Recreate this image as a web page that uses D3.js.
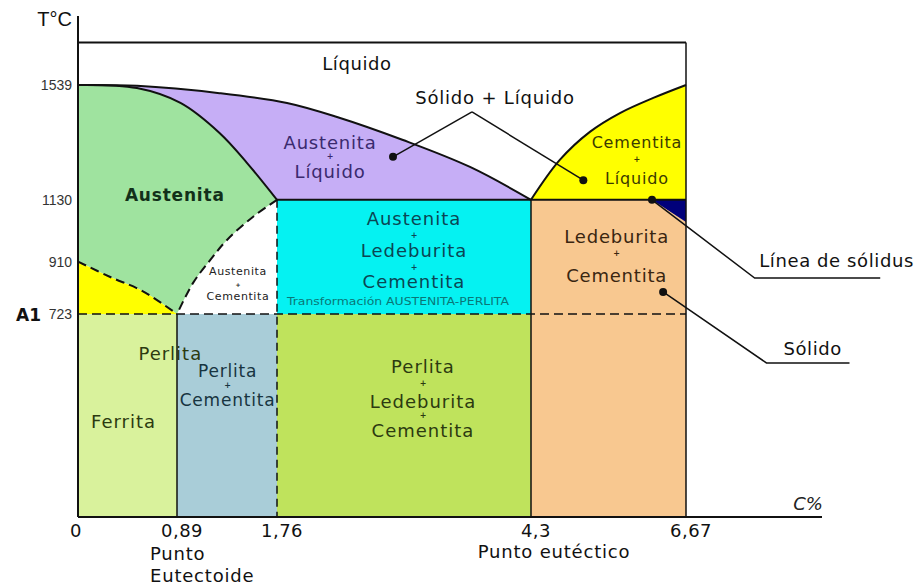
<!DOCTYPE html>
<html>
<head>
<meta charset="utf-8">
<script src="https://cdn.jsdelivr.net/npm/d3@7"></script>
<style>
  body { margin: 0; background: #fff; }
  svg { display: block; }
  text { font-family: "DejaVu Sans", sans-serif; }
  .narrow { font-family: "Liberation Sans Narrow", "Liberation Sans", sans-serif; font-stretch: condensed; }
</style>
</head>
<body>
<svg class="chart"></svg>
<script>
// carbon % ticks and their labels (the drawing is not to scale, so the x scale is piecewise)
const carbonTicks = [0, 0.89, 1.76, 4.3, 6.67];
const carbonLabels = ["0", "0,89", "1,76", "4,3", "6,67"];
const tempTicks = [1539, 1130, 910, 723];

// boundary curves, [C%, T°C]
const liquidus = [[0, 1539], [0.53, 1536], [1.26, 1510], [1.86, 1475], [2.36, 1425], [3.02, 1343], [3.69, 1247], [4.3, 1130]];
const solidus = [[0, 1539], [0.53, 1528], [0.92, 1475], [1.26, 1368], [1.5, 1261], [1.76, 1130]];
const acm = [[1.76, 1130], [1.55, 1069], [1.325, 987], [1.18, 916], [1.03, 834], [0.89, 723]];
const a3 = [[0, 910], [0.29, 855], [0.58, 805], [0.89, 723]];
const cementiteLiquidus = [[4.3, 1130], [4.74, 1272], [5.2, 1372], [5.66, 1439], [6.17, 1493], [6.67, 1539]];
const solidusTriangle = [[6.15, 1130], [6.67, 1130], [6.67, 1051]];
const tMax = 1690;

// region labels: [C%, T of first baseline], lines
const regionLabels = [
  { c: 2.56, t: 1592, lines: ["Líquido"], cls: "plain" },
  { c: 2.29, t: 1311, lines: ["Austenita", "+", "Líquido"], cls: "purple" },
  { c: 0.87, t: 1126, lines: ["Austenita"], cls: "bold" },
  { c: 1.42, t: 862, lines: ["Austenita", "+", "Cementita"], cls: "small" },
  { c: 3.13, t: 1040, lines: ["Austenita", "+", "Ledeburita", "+", "Cementita"], cls: "cyan" },
  { c: 5.92, t: 1315, lines: ["Cementita", "+", "Líquido"], cls: "yellow" },
  { c: 5.61, t: 976, lines: ["Ledeburita", "+", "Cementita"], cls: "orange" },
  { c: 0.83, t: 559, lines: ["Perlita"], cls: "green" },
  { c: 1.33, t: 499, lines: ["Perlita", "+", "Cementita"], cls: "blue" },
  { c: 0.41, t: 317, lines: ["Ferrita"], cls: "green" },
  { c: 3.22, t: 513, lines: ["Perlita", "+", "Ledeburita", "+", "Cementita"], cls: "green" }
];

// leader annotations: dots in the diagram, label outside
const mixLeaderFrom = [3.71, 1443];
const mixDots = [[2.92, 1283], [5.1, 1200]];
const sideNotes = [
  { text: "Línea de sólidus", dot: [6.15, 1130], elbow: [7.72, 851], end: [9.64, 851], textAt: [7.79, 891] },
  { text: "Sólido", dot: [6.32, 802], elbow: [7.9, 549], end: [9.17, 549], textAt: [8.16, 577] }
];

const width = 920, height = 586;

const x = d3.scaleLinear().domain(carbonTicks).range([78, 177, 277, 531, 686]);
const xOut = d3.scaleLinear().domain([4.3, 6.67]).range([531, 686]); // extrapolates past 6.67
const cx = c => c <= 6.67 ? x(c) : xOut(c);
const y = d3.scaleLinear().domain([0, 1539]).range([517, 85]);

const svg = d3.select(".chart")
  .attr("width", width)
  .attr("height", height)
  .attr("viewBox", [0, 0, width, height]);

const line = d3.line().x(d => cx(d[0])).y(d => y(d[1])).curve(d3.curveCatmullRom);
const straight = pts => pts.map(d => "L" + cx(d[0]) + "," + y(d[1])).join("");
const rect = (c0, c1, t0, t1, fill) => svg.append("rect")
  .attr("x", x(c0)).attr("y", y(t1))
  .attr("width", x(c1) - x(c0)).attr("height", y(t0) - y(t1))
  .attr("fill", fill);

// ---- regions ----
rect(0, 0.89, 0, 723, "#d9f29c");
rect(0.89, 1.76, 0, 723, "#a9cdd8");
rect(1.76, 4.3, 0, 723, "#bfe35c");
rect(4.3, 6.67, 0, 1130, "#f8c890");
rect(1.76, 4.3, 723, 1130, "#05f2f2");

// curved edges (curve) joined by straight edges (array of points)
const area = (parts, fill) => svg.append("path")
  .attr("fill", fill)
  .attr("d", parts.map((p, i) => {
    if (p.curve) {
      const d = line(p.curve);
      return i === 0 ? d : "L" + d.slice(1);
    }
    return straight(p);
  }).join("") + "Z");

area([{ curve: liquidus }, [[1.76, 1130]], { curve: solidus.slice().reverse() }], "#c6aef6");
area([{ curve: solidus }, { curve: acm }, { curve: a3.slice().reverse() }], "#9fe39f");
area([{ curve: a3 }, [[0, 723]]], "#ffff00");
area([{ curve: cementiteLiquidus }, [[6.67, 1130], [4.3, 1130]]], "#ffff00");
svg.append("path").attr("d", "M" + straight(solidusTriangle).slice(1) + "Z").attr("fill", "#00007a");

// ---- boundary lines ----
const stroke = (d, w, dash) => svg.append("path")
  .attr("d", d).attr("fill", "none").attr("stroke", "#111")
  .attr("stroke-width", w).attr("stroke-dasharray", dash || null);
const seg = (a, b) => `M${cx(a[0])},${y(a[1])}L${cx(b[0])},${y(b[1])}`;

stroke(line(liquidus), 2);
stroke(line(solidus), 2);
stroke(line(cementiteLiquidus), 2);
stroke(line(acm), 2, "9,5");
stroke(line(a3), 2, "9,5");
stroke(seg([1.76, 1130], [6.67, 1130]), 2);
stroke(seg([0, 723], [6.67, 723]), 1.5, "9,5");
stroke(seg([1.76, 1130], [1.76, 0]), 1.5, "8,5");
stroke(seg([0.89, 723], [0.89, 0]), 1.5);
stroke(seg([4.3, 1130], [4.3, 0]), 1.5);
stroke(seg([6.67, tMax], [6.67, 0]), 1.5);
stroke(seg([0, tMax], [6.67, tMax]), 2);

// axes
svg.append("line").attr("x1", x(0)).attr("x2", x(0)).attr("y1", 16).attr("y2", y(0))
  .attr("stroke", "#111").attr("stroke-width", 2);
svg.append("line").attr("x1", x(0)).attr("x2", 822).attr("y1", y(0)).attr("y2", y(0))
  .attr("stroke", "#111").attr("stroke-width", 2);

svg.append("g").selectAll("text").data(tempTicks).join("text")
  .attr("class", "narrow")
  .attr("x", 72).attr("y", d => y(d) + 5)
  .attr("text-anchor", "end").attr("font-size", 14).attr("fill", "#333")
  .text(d => d);
svg.append("text").attr("x", 41).attr("y", y(723) + 7).attr("text-anchor", "end")
  .attr("font-size", 17).attr("font-weight", "bold").attr("fill", "#111").text("A1");
svg.append("text").attr("class", "narrow").attr("x", 72).attr("y", 26).attr("text-anchor", "end")
  .attr("font-size", 20).attr("fill", "#111").text("T°C");

svg.append("g").selectAll("text").data(carbonTicks).join("text")
  .attr("x", d => x(d) + (d === 0 ? -2 : 5)).attr("y", 537)
  .attr("text-anchor", "middle").attr("font-size", 18).attr("letter-spacing", 0.5).attr("fill", "#111")
  .text((d, i) => carbonLabels[i]);
svg.append("text").attr("x", 808).attr("y", 510).attr("text-anchor", "middle")
  .attr("font-size", 18).attr("font-style", "italic").attr("fill", "#222").text("C%");
svg.append("text").attr("x", 150).attr("y", 560).attr("font-size", 18).attr("letter-spacing", 0.8)
  .attr("fill", "#111").text("Punto");
svg.append("text").attr("x", 150).attr("y", 582).attr("font-size", 18).attr("letter-spacing", 0.8)
  .attr("fill", "#111").text("Eutectoide");
svg.append("text").attr("x", 554).attr("y", 558).attr("text-anchor", "middle")
  .attr("font-size", 18).attr("letter-spacing", 0.8).attr("fill", "#111").text("Punto eutéctico");

// ---- region labels ----
const styles = {
  plain: { size: 18, ls: 0.6, fill: "#111", step: [0] },
  purple: { size: 18, ls: 0.8, fill: "#3a2a6e", step: [10, 19] },
  bold: { size: 17, ls: 0.8, fill: "#12301a", step: [], weight: "bold" },
  small: { size: 11, ls: 0.6, fill: "#222", step: [12, 13] },
  cyan: { size: 18, ls: 1, fill: "#0b4654", step: [13, 19, 13, 18] },
  yellow: { size: 16, ls: 0.8, fill: "#3a3a00", step: [14, 22] },
  orange: { size: 18, ls: 0.8, fill: "#3a2610", step: [13, 26] },
  blue: { size: 17, ls: 0.8, fill: "#173440", step: [11, 18] },
  green: { size: 18, ls: 1, fill: "#2c3a10", step: [13, 22, 10, 19] }
};
regionLabels.forEach(l => {
  const s = styles[l.cls];
  let yy = y(l.t);
  l.lines.forEach((txt, i) => {
    if (i > 0) yy += s.step[i - 1];
    const plus = txt === "+";
    svg.append("text")
      .attr("x", x(l.c)).attr("y", yy)
      .attr("text-anchor", "middle")
      .attr("font-size", plus ? Math.min(8, s.size * 0.55) : s.size)
      .attr("letter-spacing", plus ? null : s.ls)
      .attr("font-weight", plus ? "bold" : (s.weight || null))
      .attr("fill", s.fill)
      .text(txt);
  });
});
svg.append("text").attr("x", x(2.97)).attr("y", y(723) - 9).attr("text-anchor", "middle")
  .attr("font-size", 10).attr("textLength", 222).attr("lengthAdjust", "spacingAndGlyphs")
  .attr("fill", "#0a7777").text("Transformación AUSTENITA-PERLITA");

// ---- leaders ----
svg.append("text").attr("x", x(3.94)).attr("y", y(1471)).attr("text-anchor", "middle")
  .attr("font-size", 18).attr("letter-spacing", 0.8).attr("fill", "#111").text("Sólido + Líquido");
mixDots.forEach(d => {
  stroke(seg(mixLeaderFrom, d), 1.5);
  svg.append("circle").attr("cx", x(d[0])).attr("cy", y(d[1])).attr("r", 4).attr("fill", "#111");
});
sideNotes.forEach(n => {
  stroke(seg(n.dot, n.elbow) + "L" + cx(n.end[0]) + "," + y(n.end[1]), 1.5);
  svg.append("circle").attr("cx", cx(n.dot[0])).attr("cy", y(n.dot[1])).attr("r", 4).attr("fill", "#111");
  svg.append("text").attr("x", cx(n.textAt[0])).attr("y", y(n.textAt[1]))
    .attr("font-size", 18).attr("letter-spacing", 0.6).attr("fill", "#111").text(n.text);
});
</script>
</body>
</html>
